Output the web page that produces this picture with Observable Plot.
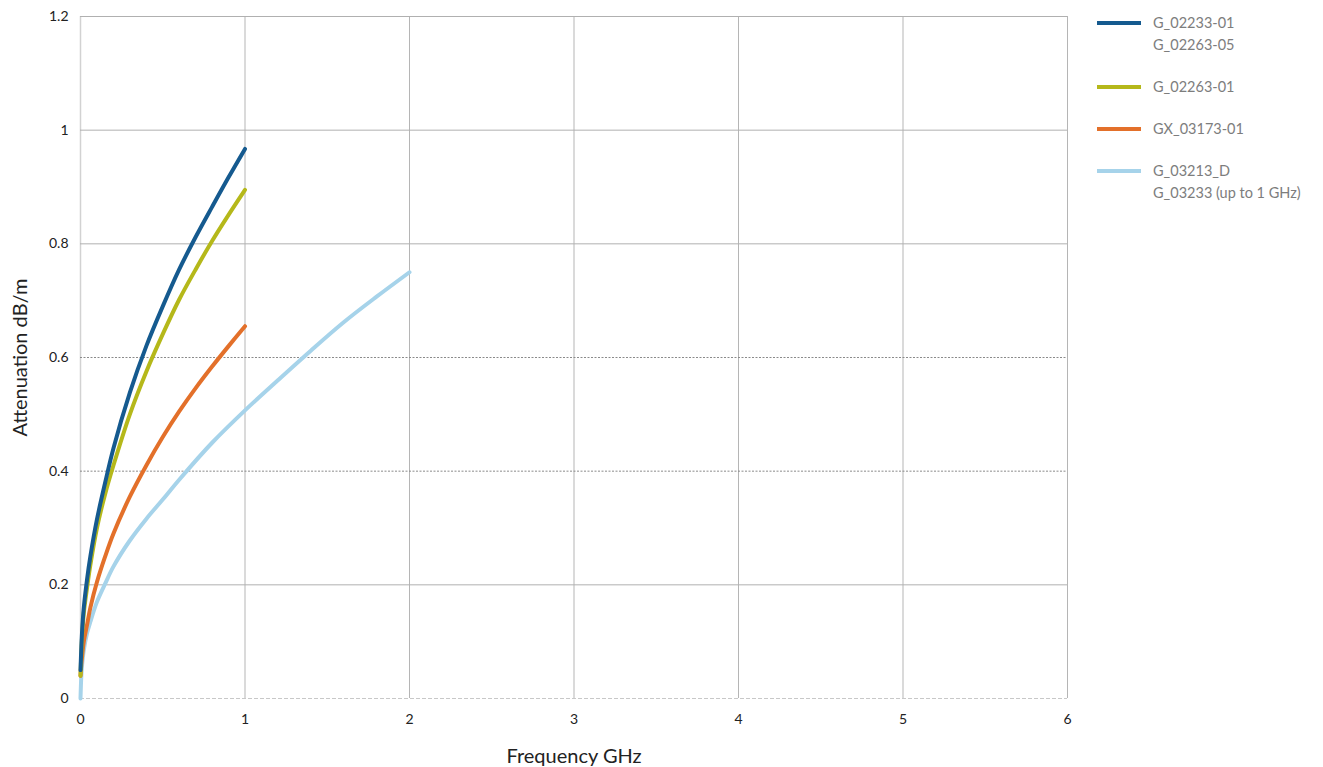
<!DOCTYPE html>
<html><head><meta charset="utf-8">
<script src="https://cdn.jsdelivr.net/npm/d3@7"></script>
<script src="https://cdn.jsdelivr.net/npm/@observablehq/plot@0.6"></script>
<style>
body{margin:0;background:#fff;font-family:Lato,"Open Sans",sans-serif;}
#wrap{position:relative;width:1323px;height:767px;}
#legend{position:absolute;left:1097px;top:12px;font-size:14.5px;color:#7d7d7d;}
.item{display:flex;align-items:flex-start;margin-bottom:20px;}
.sw{width:44px;height:4px;margin-top:9px;margin-right:12px;flex:none;}
.lab{line-height:22px;}
</style></head><body>
<div id="wrap"><div id="chart"></div><div id="legend"></div></div>
<script>
const seriesNames = ["G_02233-01\nG_02263-05","G_02263-01","GX_03173-01","G_03213_D\nG_03233 (up to 1 GHz)"];
const seriesColors = ["#155a8f","#b5b81a","#e3702a","#a6d3ea"];
const freqShort = [0,0.005,0.01,0.02,0.04,0.06,0.1,0.15,0.2,0.3,0.4,0.5,0.6,0.7,0.8,0.9,1.0];
const blueVals  = [0.05,0.09,0.12,0.16,0.21,0.25,0.315,0.38,0.44,0.538,0.62,0.69,0.755,0.812,0.865,0.917,0.967];
const oliveVals = [0.04,0.08,0.11,0.15,0.195,0.235,0.30,0.36,0.41,0.50,0.575,0.641,0.702,0.755,0.805,0.851,0.895];
const orangeVals= [0.04,0.06,0.075,0.10,0.13,0.16,0.205,0.25,0.29,0.355,0.41,0.46,0.505,0.546,0.584,0.62,0.655];
const freqLong  = [0,0.005,0.01,0.02,0.04,0.06,0.1,0.15,0.2,0.3,0.4,0.5,0.6,0.8,1.0,1.2,1.4,1.6,1.8,2.0];
const lightVals = [0,0.04,0.06,0.085,0.115,0.135,0.17,0.202,0.232,0.278,0.316,0.35,0.385,0.45,0.507,0.56,0.612,0.662,0.707,0.75];
const xTicks = [0,1,2,3,4,5,6];
const yTicks = [0,0.2,0.4,0.6,0.8,1,1.2];

const rows = [];
const addSeries = (name, xs, ys) => xs.forEach((f,i)=>rows.push({name, f, a: ys[i]}));
addSeries(seriesNames[3], freqLong, lightVals);
addSeries(seriesNames[2], freqShort, orangeVals);
addSeries(seriesNames[1], freqShort, oliveVals);
addSeries(seriesNames[0], freqShort, blueVals);

const fmt = d => String(+d.toFixed(1));
const chart = Plot.plot({
  width: 1090, height: 767,
  marginLeft: 80, marginRight: 23, marginTop: 16, marginBottom: 69,
  style: {fontFamily: "Lato, 'Open Sans', sans-serif", fontSize: "14px", color: "#222"},
  x: {domain: [0,6]},
  y: {domain: [0,1.2]},
  color: {domain: seriesNames, range: seriesColors},
  marks: [
    Plot.ruleX(xTicks.filter(d => d > 0), {stroke: "#b5b5b5", strokeWidth: 1}),
    Plot.ruleX(xTicks.filter(d => d === 0), {stroke: "#d2d2d2", strokeWidth: 1.5}),
    Plot.ruleY(yTicks.filter(d => d === 0.2 || d >= 0.8), {stroke: "#b0b0b0", strokeWidth: 1}),
    Plot.ruleY(yTicks.filter(d => d === 0.4 || d === 0.6), {stroke: "#8a8a8a", strokeWidth: 1, strokeDasharray: "2,1.5"}),
    Plot.ruleY(yTicks.filter(d => d === 0), {stroke: "#c8c8c8", strokeWidth: 1.2, strokeDasharray: "4,2"}),
    Plot.axisX({ticks: xTicks, tickFormat: fmt, tickSize: 0, tickPadding: 16, label: "Frequency GHz", labelAnchor: "center", labelOffset: 64, labelArrow: "none", fontSize: 14}),
    Plot.axisY({ticks: yTicks, tickFormat: fmt, tickSize: 0, tickPadding: 12, label: "Attenuation dB/m", labelAnchor: "center", labelOffset: 68, labelArrow: "none", fontSize: 14}),
    Plot.line(rows, {x: "f", y: "a", z: "name", stroke: "name", strokeWidth: 4, curve: "catmull-rom", strokeLinecap: "round"})
  ]
});
chart.querySelectorAll("g[aria-label='x-axis label'] text, g[aria-label='y-axis label'] text").forEach(t => {t.style.fontSize = "20px"; t.style.fill = "#222";});
document.getElementById("chart").appendChild(chart);

const lg = document.getElementById("legend");
seriesNames.forEach((n,i) => {
  const it = document.createElement("div"); it.className = "item";
  const sw = document.createElement("div"); sw.className = "sw"; sw.style.background = seriesColors[i];
  const lab = document.createElement("div"); lab.className = "lab"; lab.innerHTML = n.split("\n").join("<br>");
  it.appendChild(sw); it.appendChild(lab); lg.appendChild(it);
});
</script>
</body></html>
